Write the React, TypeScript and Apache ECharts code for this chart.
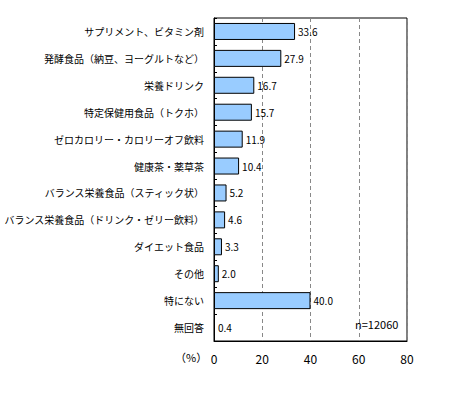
import React, { useEffect, useRef } from "react";
import * as echarts from "echarts";

const categories = [
  "サプリメント、ビタミン剤",
  "発酵食品（納豆、ヨーグルトなど）",
  "栄養ドリンク",
  "特定保健用食品（トクホ）",
  "ゼロカロリー・カロリーオフ飲料",
  "健康茶・薬草茶",
  "バランス栄養食品（スティック状）",
  "バランス栄養食品（ドリンク・ゼリー飲料）",
  "ダイエット食品",
  "その他",
  "特にない",
  "無回答",
];
const values = [33.6, 27.9, 16.7, 15.7, 11.9, 10.4, 5.2, 4.6, 3.3, 2.0, 40.0, 0.4];
const xTicks = [0, 20, 40, 60, 80];
const sampleNote = "n=12060";
const unitLabel = "（%）";

const FONT = "'Noto Sans CJK JP', sans-serif";

export default function App() {
  const ref = useRef<HTMLDivElement>(null);
  useEffect(() => {
    document.body.style.margin = "0";
    const chart = echarts.init(ref.current!, undefined, { renderer: "svg" });
    chart.setOption({
      animation: false,
      backgroundColor: "#ffffff",
      grid: {
        left: 214,
        right: 42,
        top: 18,
        bottom: 53,
        show: true,
        borderColor: "#000",
        borderWidth: 1,
        containLabel: false,
        outerBoundsMode: "none",
      },
      xAxis: {
        type: "value",
        min: xTicks[0],
        max: xTicks[xTicks.length - 1],
        interval: 20,
        axisLine: { show: true, lineStyle: { color: "#000" } },
        axisTick: { show: false },
        axisLabel: { color: "#000", fontSize: 12, fontFamily: FONT, margin: 11 },
        splitLine: { show: true, lineStyle: { color: "#888", type: [4, 3], width: 1 } },
      },
      yAxis: {
        type: "category",
        data: categories,
        inverse: true,
        axisLine: { show: true, lineStyle: { color: "#000" } },
        axisTick: { show: true, inside: true, length: 3, lineStyle: { color: "#000" } },
        axisLabel: { color: "#000", fontSize: 10, fontFamily: FONT, margin: 10 },
        splitLine: { show: false },
      },
      series: [
        {
          type: "bar",
          data: values,
          barWidth: 17,
          itemStyle: { color: "#99CCFF", borderColor: "#000", borderWidth: 1 },
          label: {
            show: true,
            position: "right",
            distance: 3,
            color: "#000",
            fontSize: 10,
            fontFamily: FONT,
            formatter: (p: any) => Number(p.value).toFixed(1),
          },
        },
      ],
      graphic: [
        {
          type: "text",
          left: 355,
          top: 318,
          style: { text: sampleNote, fill: "#000", fontSize: 11, fontFamily: FONT },
        },
        {
          type: "text",
          left: 175,
          top: 351,
          style: { text: unitLabel, fill: "#000", fontSize: 11, fontFamily: FONT },
        },
      ],
    });
    return () => chart.dispose();
  }, []);
  return <div ref={ref} style={{ width: 449, height: 394 }} />;
}
